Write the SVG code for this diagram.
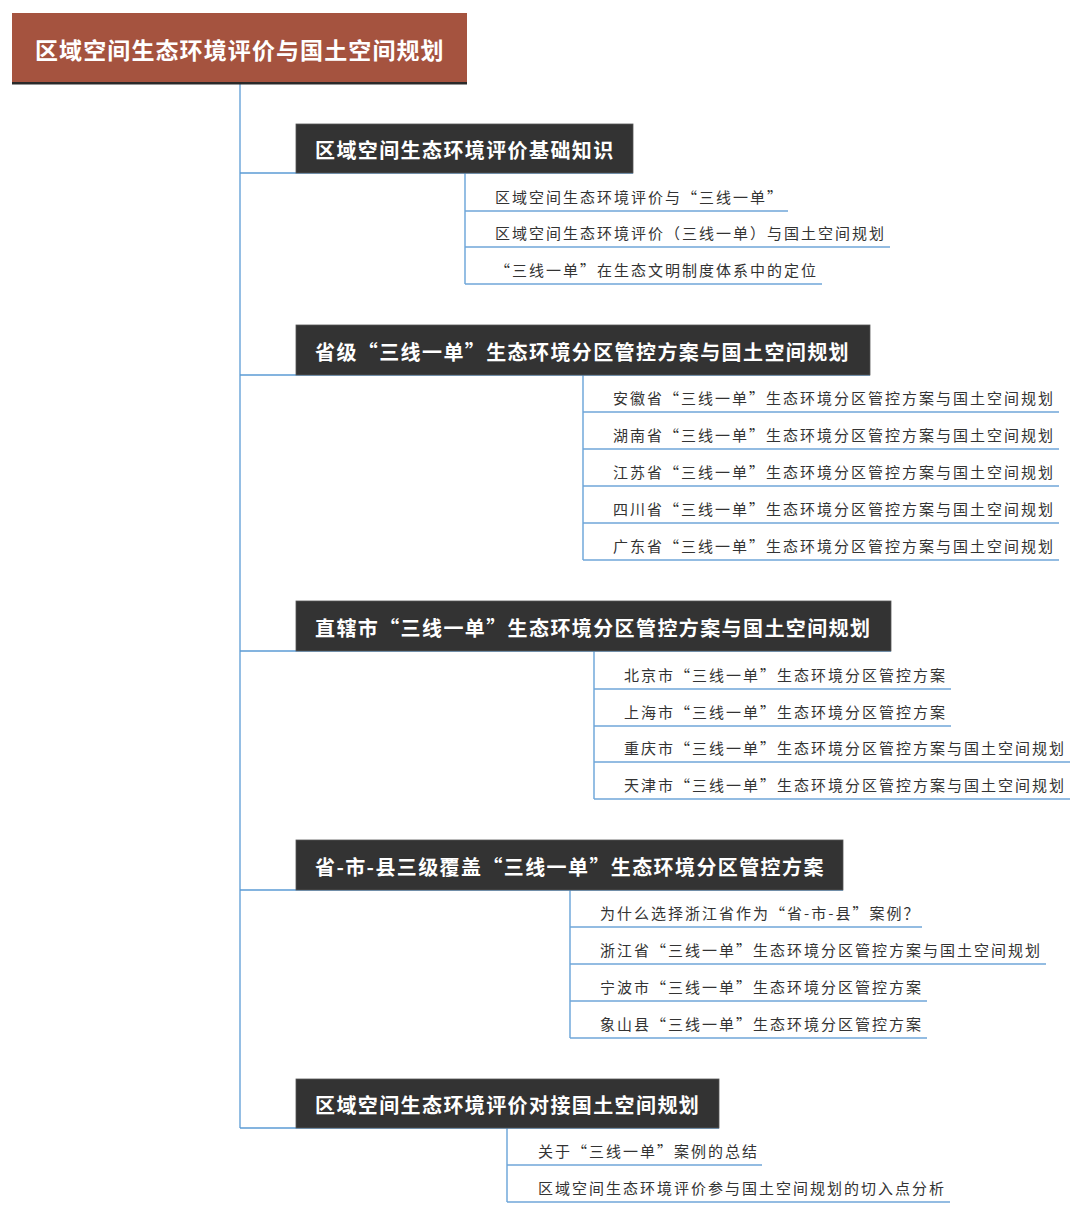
<svg xmlns="http://www.w3.org/2000/svg" width="1080" height="1214" viewBox="0 0 1080 1214">
<style>
.title{font-family:"Noto Sans CJK SC","Noto Sans CJK JP",sans-serif;font-size:23px;font-weight:700;fill:#ffffff;letter-spacing:1.1px}
.hbox{fill:#333333;stroke:#555555;stroke-width:0.8}
.htext{font-family:"Noto Sans CJK SC","Noto Sans CJK JP",sans-serif;font-size:20px;font-weight:700;fill:#ffffff;letter-spacing:1.4px}
.leaf{font-family:"Noto Sans CJK SC","Noto Sans CJK JP",sans-serif;font-size:15px;fill:#333333;letter-spacing:2px}
.ln{stroke:#5b9bd5;stroke-width:1.3;fill:none}
.ul{stroke:#6fa6d8;stroke-width:1.5;fill:none}
</style>
<rect width="1080" height="1214" fill="#ffffff"/>
<g id="connectors">
  <line class="ln" x1="240" y1="84" x2="240" y2="1128"/>
  <line class="ln" x1="240" y1="173" x2="633" y2="173"/>
  <line class="ln" x1="240" y1="375" x2="870" y2="375"/>
  <line class="ln" x1="240" y1="651" x2="891" y2="651"/>
  <line class="ln" x1="240" y1="890" x2="843" y2="890"/>
  <line class="ln" x1="240" y1="1128" x2="719" y2="1128"/>
  <line class="ln" x1="465" y1="173" x2="465" y2="284"/>
  <line class="ln" x1="583" y1="375" x2="583" y2="560"/>
  <line class="ln" x1="594" y1="651" x2="594" y2="799"/>
  <line class="ln" x1="570" y1="890" x2="570" y2="1038"/>
  <line class="ln" x1="507" y1="1128" x2="507" y2="1202"/>
</g>
<g id="root">
  <rect x="12" y="13" width="455" height="70" fill="#a5533f"/>
  <rect x="12" y="82" width="455" height="2.5" fill="#2a2a2a"/>
  <text class="title" x="35" y="59">区域空间生态环境评价与国土空间规划</text>
</g>
<g id="s1">
  <rect class="hbox" x="296" y="124" width="337" height="49"/>
  <text class="htext" x="315" y="158">区域空间生态环境评价基础知识</text>
</g>
<g id="s1-l1"><line class="ul" x1="465" y1="211" x2="788" y2="211"/><text class="leaf" x="495" y="203">区域空间生态环境评价与“三线一单”</text></g>
<g id="s1-l2"><line class="ul" x1="465" y1="247" x2="890" y2="247"/><text class="leaf" x="495" y="239">区域空间生态环境评价（三线一单）与国土空间规划</text></g>
<g id="s1-l3"><line class="ul" x1="465" y1="284" x2="822" y2="284"/><text class="leaf" x="495" y="276">“三线一单”在生态文明制度体系中的定位</text></g>
<g id="s2">
  <rect class="hbox" x="296" y="325" width="574" height="50"/>
  <text class="htext" x="315" y="360">省级“三线一单”生态环境分区管控方案与国土空间规划</text>
</g>
<g id="s2-l1"><line class="ul" x1="583" y1="412" x2="1059" y2="412"/><text class="leaf" x="613" y="404">安徽省“三线一单”生态环境分区管控方案与国土空间规划</text></g>
<g id="s2-l2"><line class="ul" x1="583" y1="449" x2="1059" y2="449"/><text class="leaf" x="613" y="441">湖南省“三线一单”生态环境分区管控方案与国土空间规划</text></g>
<g id="s2-l3"><line class="ul" x1="583" y1="486" x2="1059" y2="486"/><text class="leaf" x="613" y="478">江苏省“三线一单”生态环境分区管控方案与国土空间规划</text></g>
<g id="s2-l4"><line class="ul" x1="583" y1="523" x2="1059" y2="523"/><text class="leaf" x="613" y="515">四川省“三线一单”生态环境分区管控方案与国土空间规划</text></g>
<g id="s2-l5"><line class="ul" x1="583" y1="560" x2="1059" y2="560"/><text class="leaf" x="613" y="552">广东省“三线一单”生态环境分区管控方案与国土空间规划</text></g>
<g id="s3">
  <rect class="hbox" x="296" y="601" width="595" height="50"/>
  <text class="htext" x="315" y="636">直辖市“三线一单”生态环境分区管控方案与国土空间规划</text>
</g>
<g id="s3-l1"><line class="ul" x1="594" y1="689" x2="951" y2="689"/><text class="leaf" x="624" y="681">北京市“三线一单”生态环境分区管控方案</text></g>
<g id="s3-l2"><line class="ul" x1="594" y1="726" x2="951" y2="726"/><text class="leaf" x="624" y="718">上海市“三线一单”生态环境分区管控方案</text></g>
<g id="s3-l3"><line class="ul" x1="594" y1="762" x2="1070" y2="762"/><text class="leaf" x="624" y="754">重庆市“三线一单”生态环境分区管控方案与国土空间规划</text></g>
<g id="s3-l4"><line class="ul" x1="594" y1="799" x2="1070" y2="799"/><text class="leaf" x="624" y="791">天津市“三线一单”生态环境分区管控方案与国土空间规划</text></g>
<g id="s4">
  <rect class="hbox" x="296" y="840" width="547" height="50"/>
  <text class="htext" x="315" y="875">省-市-县三级覆盖“三线一单”生态环境分区管控方案</text>
</g>
<g id="s4-l1"><line class="ul" x1="570" y1="927" x2="922" y2="927"/><text class="leaf" x="600" y="919">为什么选择浙江省作为“省-市-县”案例？</text></g>
<g id="s4-l2"><line class="ul" x1="570" y1="964" x2="1046" y2="964"/><text class="leaf" x="600" y="956">浙江省“三线一单”生态环境分区管控方案与国土空间规划</text></g>
<g id="s4-l3"><line class="ul" x1="570" y1="1001" x2="927" y2="1001"/><text class="leaf" x="600" y="993">宁波市“三线一单”生态环境分区管控方案</text></g>
<g id="s4-l4"><line class="ul" x1="570" y1="1038" x2="927" y2="1038"/><text class="leaf" x="600" y="1030">象山县“三线一单”生态环境分区管控方案</text></g>
<g id="s5">
  <rect class="hbox" x="296" y="1079" width="423" height="49"/>
  <text class="htext" x="315" y="1113">区域空间生态环境评价对接国土空间规划</text>
</g>
<g id="s5-l1"><line class="ul" x1="507" y1="1165" x2="762" y2="1165"/><text class="leaf" x="538" y="1157">关于“三线一单”案例的总结</text></g>
<g id="s5-l2"><line class="ul" x1="507" y1="1202" x2="950" y2="1202"/><text class="leaf" x="538" y="1194">区域空间生态环境评价参与国土空间规划的切入点分析</text></g>
</svg>
